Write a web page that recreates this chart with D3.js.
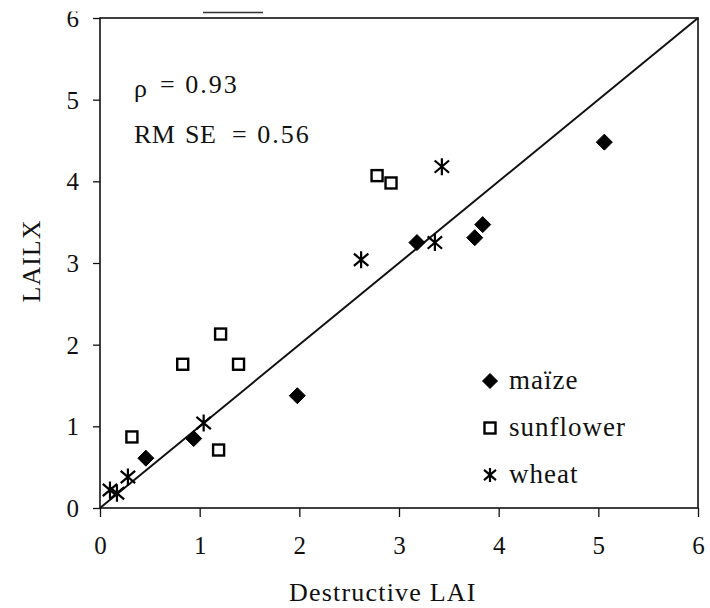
<!DOCTYPE html>
<html>
<head>
<meta charset="utf-8">
<script src="https://cdn.jsdelivr.net/npm/d3@7"></script>
<style>
  html, body { margin: 0; padding: 0; background: #fff; }
</style>
</head>
<body>
<svg id="chart" width="710" height="608"></svg>
<script>
// Destructive LAI vs LAILX estimates, by crop
const maizeX = [0.46, 0.94, 1.98, 3.18, 3.76, 3.84, 5.06];
const maizeY = [0.61, 0.85, 1.375, 3.25, 3.31, 3.47, 4.48];

const sunflowerX = [0.32, 0.83, 1.21, 1.39, 1.19, 2.78, 2.92];
const sunflowerY = [0.87, 1.76, 2.13, 1.76, 0.71, 4.07, 3.98];

const wheatX = [0.10, 0.17, 0.28, 1.04, 2.62, 3.36, 3.43];
const wheatY = [0.22, 0.18, 0.38, 1.04, 3.04, 3.25, 4.18];

const xTicks = [0, 1, 2, 3, 4, 5, 6];
const yTicks = [0, 1, 2, 3, 4, 5, 6];
const legendLabels = ["maïze", "sunflower", "wheat"];
const statsRho = "0.93";
const statsRmse = "0.56";

const SERIF = "'Liberation Serif', 'Times New Roman', Tinos, 'DejaVu Serif', serif";

const svg = d3.select("#chart");
const plot = { left: 100, right: 698, top: 18, bottom: 508 };

const x = d3.scaleLinear().domain([0, 6]).range([plot.left, plot.right]);
const y = d3.scaleLinear().domain([0, 6]).range([plot.bottom, plot.top]);

function label(sel) {
  return sel.attr("font-family", SERIF).style("font-family", SERIF).attr("fill", "#111");
}

// axes
const xAxis = d3.axisBottom(x).tickValues(xTicks).tickSize(9).tickPadding(20).tickFormat(d3.format("d"));
const yAxis = d3.axisLeft(y).tickValues(yTicks).tickSize(7).tickPadding(14).tickFormat(d3.format("d"));

const gx = svg.append("g").attr("transform", `translate(0,${plot.bottom})`).call(xAxis);
const gy = svg.append("g").attr("transform", `translate(${plot.left},0)`).call(yAxis);
[gx, gy].forEach(g => {
  g.attr("font-family", SERIF);
  g.select(".domain").remove();
  g.selectAll(".tick line").attr("stroke", "#111").attr("stroke-width", 1.3);
  label(g.selectAll(".tick text")).attr("font-size", 25);
});
gy.selectAll(".tick text").attr("dy", "0.34em");
gx.selectAll(".tick text").attr("dy", "0.68em");

// frame
svg.append("rect")
  .attr("x", plot.left).attr("y", plot.top)
  .attr("width", plot.right - plot.left).attr("height", plot.bottom - plot.top)
  .attr("fill", "none").attr("stroke", "#111").attr("stroke-width", 1.6);

// top edge of the figure trims the uppermost label
svg.append("rect").attr("x", 0).attr("y", 0).attr("width", plot.left - 2).attr("height", 11.5).attr("fill", "#fff");
svg.append("line").attr("x1", 203).attr("x2", 263).attr("y1", 12.5).attr("y2", 12.5)
  .attr("stroke", "#333").attr("stroke-width", 1.3);

// 1:1 line
svg.append("line")
  .attr("x1", x(0)).attr("y1", y(0)).attr("x2", x(6)).attr("y2", y(6))
  .attr("stroke", "#111").attr("stroke-width", 2);

// marker shapes
function diamond(g, cx, cy, r) {
  g.append("path")
    .attr("d", `M${cx},${cy - r}L${cx + r},${cy}L${cx},${cy + r}L${cx - r},${cy}Z`)
    .attr("fill", "#000").attr("stroke", "#000").attr("stroke-width", 1).attr("stroke-linejoin", "round");
}
function square(g, cx, cy, s) {
  g.append("rect").attr("x", cx - s / 2).attr("y", cy - s / 2).attr("width", s).attr("height", s)
    .attr("fill", "#fff").attr("stroke", "#000").attr("stroke-width", 2.4);
}
function asterisk(g, cx, cy, r) {
  const d = r * 0.85;
  g.append("path")
    .attr("d", `M${cx},${cy - r}V${cy + r}M${cx - d},${cy - d * 0.85}L${cx + d},${cy + d * 0.85}M${cx - d},${cy + d * 0.85}L${cx + d},${cy - d * 0.85}`)
    .attr("stroke", "#000").attr("stroke-width", 2.2).attr("fill", "none");
}

const marks = svg.append("g");
sunflowerX.forEach((v, i) => square(marks, x(v), y(sunflowerY[i]), 11));
maizeX.forEach((v, i) => diamond(marks, x(v), y(maizeY[i]), 8));
wheatX.forEach((v, i) => asterisk(marks, x(v), y(wheatY[i]), 8.5));

// legend
const leg = svg.append("g");
const legY = [381, 428, 475];
diamond(leg, 490, legY[0], 7.5);
square(leg, 490, legY[1], 11);
asterisk(leg, 490, legY[2], 7);
legendLabels.forEach((t, i) => {
  label(leg.append("text")).attr("x", 509).attr("y", legY[i] + 7.5)
    .attr("font-size", 27).attr("letter-spacing", 1).text(t);
});

// statistics
label(svg.append("text")).attr("x", 134).attr("y", 97).attr("font-size", 26).text("ρ");
label(svg.append("text")).attr("x", 160).attr("y", 93).attr("font-size", 26)
  .attr("letter-spacing", 2).text("= " + statsRho);
label(svg.append("text")).attr("x", 134).attr("y", 143).attr("font-size", 26)
  .attr("letter-spacing", 0.5).text("RM");
label(svg.append("text")).attr("x", 185).attr("y", 143).attr("font-size", 26)
  .attr("letter-spacing", 0.5).text("SE");
label(svg.append("text")).attr("x", 232).attr("y", 143).attr("font-size", 26)
  .attr("letter-spacing", 2).text("= " + statsRmse);

// axis titles
label(svg.append("text")).attr("x", 289).attr("y", 601)
  .attr("font-size", 26).attr("letter-spacing", 1.2).text("Destructive LAI");
label(svg.append("text")).attr("transform", "translate(40,261) rotate(-90)")
  .attr("text-anchor", "middle").attr("font-size", 26).attr("letter-spacing", 1).text("LAILX");
</script>
</body>
</html>
